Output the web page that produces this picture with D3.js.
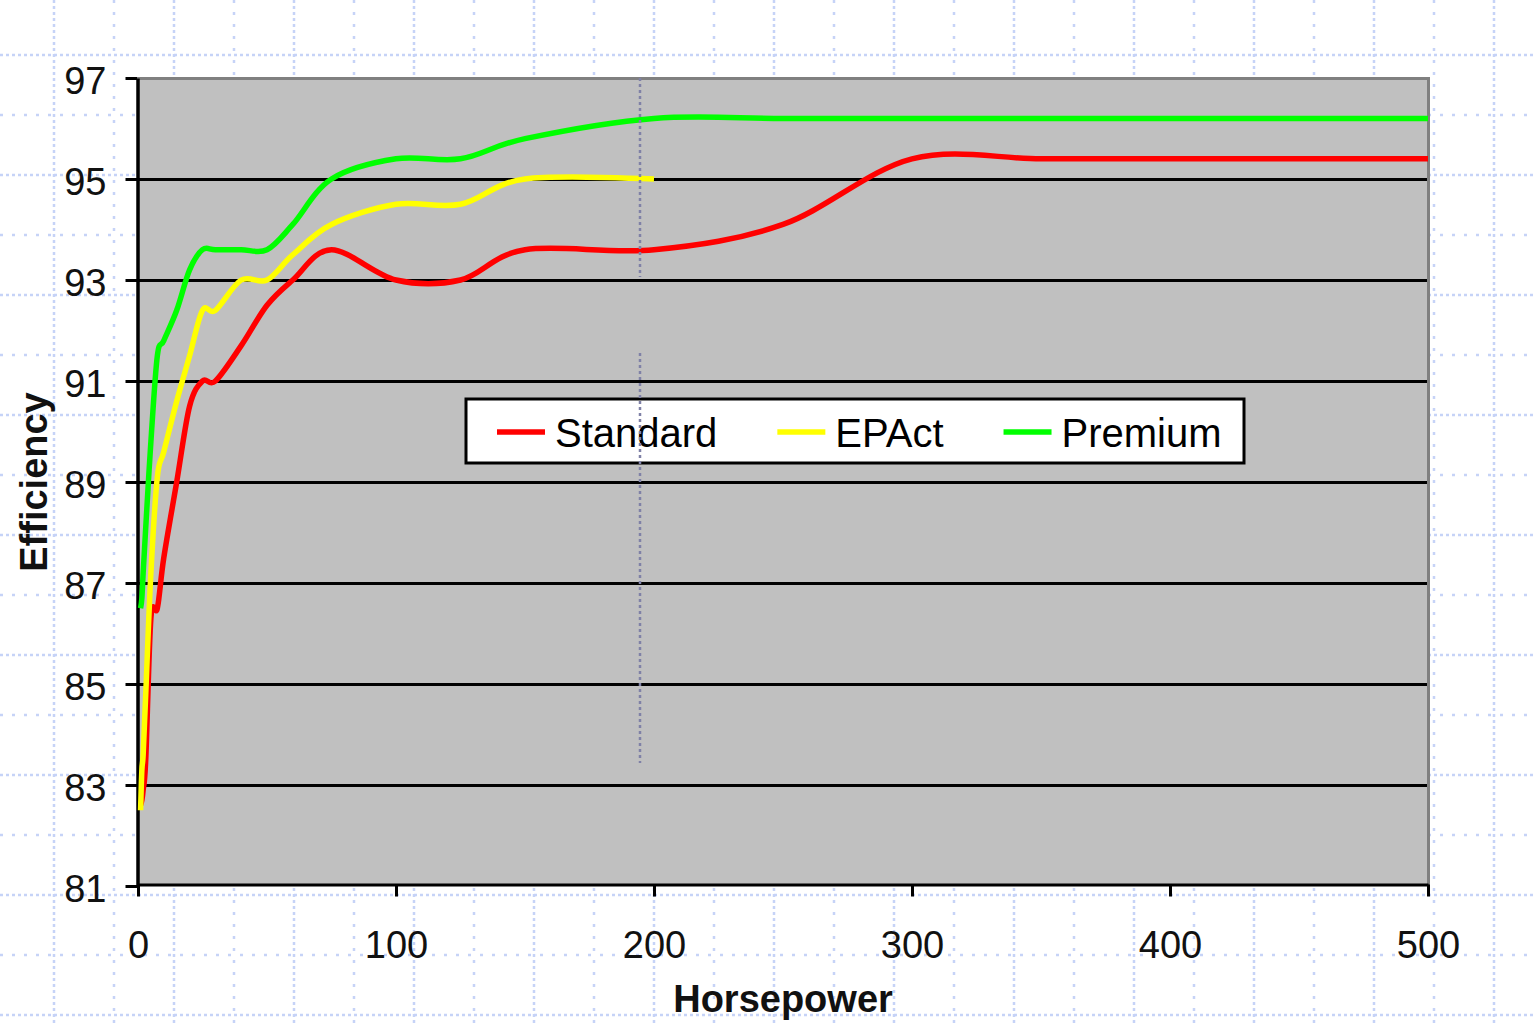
<!DOCTYPE html>
<html>
<head>
<meta charset="utf-8">
<script src="https://cdn.jsdelivr.net/npm/d3@7"></script>
<style>
  html, body { margin: 0; padding: 0; background: #ffffff; }
  svg { display: block; font-family: "Liberation Sans", Arial, sans-serif; }
</style>
</head>
<body>
<svg id="chart" width="1534" height="1024"></svg>
<script>
// Motor nameplate efficiency (%) by horsepower rating
const horsepower = [1, 1.5, 2, 3, 5, 7.5, 10, 15, 20, 25, 30, 40, 50, 60, 75, 100, 125, 150, 200, 250, 300, 350, 400, 450, 500];
const standard   = [82.6, 82.7, 82.9, 83.5, 86.3, 86.5, 87.5, 89.0, 90.5, 91.0, 91.0, 91.7, 92.5, 93.0, 93.6, 93.0, 93.0, 93.6, 93.6, 94.1, 95.4, 95.4, 95.4, 95.4, 95.4];
const epact      = [82.5, 83.3, 83.6, 84.8, 87.2, 89.1, 89.6, 90.6, 91.5, 92.4, 92.4, 93.0, 93.0, 93.5, 94.1, 94.5, 94.5, 95.0, 95.0, null, null, null, null, null, null];
const premium    = [86.5, 86.7, 87.2, 88.1, 89.8, 91.5, 91.8, 92.4, 93.2, 93.6, 93.6, 93.6, 93.6, 94.1, 95.0, 95.4, 95.4, 95.8, 96.2, 96.2, 96.2, 96.2, 96.2, 96.2, 96.2];

const seriesNames  = ["Standard", "EPAct", "Premium"];
const seriesValues = [standard, epact, premium];
const seriesColors = ["#ff0000", "#ffff00", "#00ff00"];

const yTicks = [81, 83, 85, 87, 89, 91, 93, 95, 97];
const xTicks = [0, 100, 200, 300, 400, 500];

const W = 1534, H = 1024;
const plot = { left: 138, right: 1428, top: 78, bottom: 886 };
const FONT = '"Liberation Sans", Arial, sans-serif';

const svg = d3.select("#chart");

// ---- dotted page grid behind the chart ----
const page = svg.append("g").attr("class", "page-grid");
d3.range(54, W, 60).forEach((gx, i) => {
  page.append("line")
    .attr("x1", gx).attr("x2", gx).attr("y1", 0).attr("y2", H)
    .attr("stroke", "#c6d3f7").attr("stroke-width", 2.5)
    .attr("stroke-dasharray", i % 2 === 0 ? "3,3" : "3,9");
});
d3.range(55, H, 60).forEach((gy, i) => {
  page.append("line")
    .attr("x1", 0).attr("x2", W).attr("y1", gy).attr("y2", gy)
    .attr("stroke", "#c6d3f7").attr("stroke-width", 2.5)
    .attr("stroke-dasharray", i % 2 === 0 ? "3,3" : "3,9");
});

// ---- scales ----
const x = d3.scaleLinear().domain([0, 500]).range([plot.left, plot.right]);
const y = d3.scaleLinear().domain([81, 97]).range([plot.bottom, plot.top]);

// ---- plot area ----
svg.append("rect")
  .attr("x", plot.left).attr("y", plot.top)
  .attr("width", plot.right - plot.left).attr("height", plot.bottom - plot.top)
  .attr("fill", "#c0c0c0");

// horizontal gridlines
svg.append("g").selectAll("line")
  .data(yTicks.filter(t => t > 81 && t < 97))
  .join("line")
  .attr("x1", plot.left).attr("x2", plot.right)
  .attr("y1", d => y(d)).attr("y2", d => y(d))
  .attr("stroke", "#000").attr("stroke-width", 3)
  .attr("shape-rendering", "crispEdges");

// top and right frame
svg.append("path")
  .attr("d", `M${plot.left},${plot.top}H${plot.right}V${plot.bottom}`)
  .attr("fill", "none").attr("stroke", "#808080").attr("stroke-width", 3)
  .attr("shape-rendering", "crispEdges");

// ---- axes ----
const yAxis = svg.append("g")
  .attr("transform", `translate(${plot.left - 0.5},0)`)
  .call(d3.axisLeft(y).tickValues(yTicks).tickSize(12).tickSizeOuter(0).tickPadding(19));
yAxis.select(".domain").attr("stroke", "#000").attr("stroke-width", 3.5);
yAxis.selectAll(".tick line").attr("stroke", "#000").attr("stroke-width", 3);
yAxis.selectAll(".tick text")
  .attr("dy", "0.4em").attr("fill", "#111")
  .style("font-family", FONT).style("font-size", "38px");

const xAxis = svg.append("g")
  .attr("transform", `translate(0,${plot.bottom - 1.5})`)
  .call(d3.axisBottom(x).tickValues(xTicks).tickSize(12).tickSizeOuter(0));
xAxis.select(".domain").attr("stroke", "#000").attr("stroke-width", 3);
xAxis.selectAll(".tick line").attr("stroke", "#000").attr("stroke-width", 3);
xAxis.selectAll(".tick text")
  .attr("y", 73.5).attr("dy", 0).attr("fill", "#111")
  .style("font-family", FONT).style("font-size", "38px");

// axis titles
svg.append("text")
  .attr("transform", `translate(47,${(plot.top + plot.bottom) / 2}) rotate(-90)`)
  .attr("text-anchor", "middle")
  .style("font-family", FONT).style("font-size", "38px").style("font-weight", "bold")
  .attr("fill", "#111")
  .text("Efficiency");

svg.append("text")
  .attr("x", (plot.left + plot.right) / 2).attr("y", 1012)
  .attr("text-anchor", "middle")
  .style("font-family", FONT).style("font-size", "38px").style("font-weight", "bold")
  .attr("fill", "#111")
  .text("Horsepower");

// ---- series lines (smoothed) ----
const line = d3.line()
  .defined(d => d.v != null)
  .x(d => x(d.hp))
  .y(d => y(d.v))
  .curve(d3.curveCatmullRom.alpha(0));

seriesValues.forEach((vals, i) => {
  const pts = horsepower.map((h, j) => ({ hp: h, v: vals[j] }));
  svg.append("path")
    .datum(pts)
    .attr("d", line)
    .attr("fill", "none")
    .attr("stroke", seriesColors[i])
    .attr("stroke-width", 5.5)
    .attr("stroke-linejoin", "round");
});

// ---- legend ----
const legend = svg.append("g").attr("class", "legend");
legend.append("rect")
  .attr("x", 466).attr("y", 399).attr("width", 778).attr("height", 64)
  .attr("fill", "#fff").attr("stroke", "#000").attr("stroke-width", 3);

let lx = 497;
seriesNames.forEach((name, i) => {
  legend.append("line")
    .attr("x1", lx).attr("x2", lx + 48)
    .attr("y1", 432).attr("y2", 432)
    .attr("stroke", seriesColors[i]).attr("stroke-width", 5.5);
  const t = legend.append("text")
    .attr("x", lx + 58).attr("y", 447)
    .style("font-family", FONT).style("font-size", "40px")
    .attr("fill", "#000")
    .text(name);
  lx += 58 + t.node().getComputedTextLength() + 60;
});

// ---- dotted vertical guide line ----
const guide = svg.append("g").attr("class", "guide");
[[plot.top, 277], [353, 763]].forEach(([y1, y2]) => {
  guide.append("line")
    .attr("x1", 640).attr("x2", 640).attr("y1", y1).attr("y2", y2)
    .attr("stroke", "#7f81a6").attr("stroke-width", 2.5)
    .attr("stroke-dasharray", "3,3");
});
</script>
</body>
</html>
